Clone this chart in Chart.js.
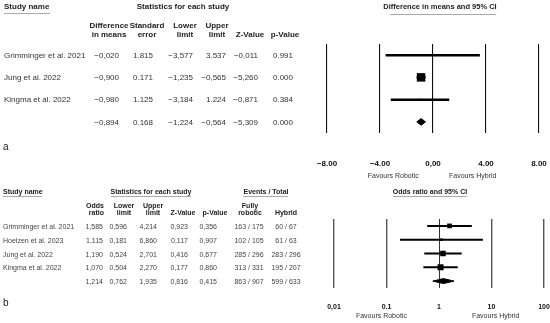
<!DOCTYPE html>
<html lang="en">
<head>
<meta charset="UTF-8" />
<title>Forest plots</title>
<script src="https://cdn.jsdelivr.net/npm/chart.js"></script>
<style>
  body { margin: 0; background: #fff; }
  #wrap { position: relative; width: 550px; height: 323px; }
  #wrap canvas { position: absolute; left: 0; top: 0; }
</style>
</head>
<body>
<div id="wrap">
  <canvas id="plotA" width="550" height="323"></canvas>
  <canvas id="plotB" width="550" height="323"></canvas>
</div>
<script>
// panel a - difference in means (last row = summary)
const studiesA = ['Grimminger et al. 2021', 'Jung et al. 2022', 'Kingma et al. 2022', ''];
const diffA = [-0.020, -0.900, -0.980, -0.894];
const seA = [1.815, 0.171, 1.125, 0.168];
const lowerA = [-3.577, -1.235, -3.184, -1.224];
const upperA = [3.537, -0.565, 1.224, -0.564];
const zA = [-0.011, -5.260, -0.871, -5.309];
const pA = [0.991, 0.000, 0.384, 0.000];
const weightA = [1, 96, 3];
const ticksA = [-8, -4, 0, 4, 8];
const tickLabelsA = ['−8.00', '−4.00', '0,00', '4.00', '8.00'];

// panel b - odds ratio (last row = summary)
const studiesB = ['Grimminger et al. 2021', 'Hoelzen et al. 2023', 'Jung et al. 2022', 'Kingma et al. 2022', ''];
const oddsB = [1.585, 1.115, 1.190, 1.070, 1.214];
const lowerB = [0.596, 0.181, 0.524, 0.504, 0.762];
const upperB = [4.214, 6.860, 2.701, 2.270, 1.935];
const zB = [0.923, 0.117, 0.416, 0.177, 0.816];
const pB = [0.356, 0.907, 0.677, 0.860, 0.415];
const robEvents = [163, 102, 285, 313, 863];
const robTotal = [175, 105, 296, 331, 907];
const hybEvents = [60, 61, 283, 195, 599];
const hybTotal = [67, 63, 296, 207, 633];
const weightB = [23, 7, 32, 38];
const ticksB = [0.01, 0.1, 1, 10, 100];
const tickLabelsB = ['0,01', '0.1', '1', '10', '100'];

const FONT = '"Liberation Sans", Arial, sans-serif';

function txt(ctx, s, x, y, font, align, color) {
  ctx.font = font + ' ' + FONT;
  ctx.textAlign = align || 'left';
  ctx.fillStyle = color || '#222';
  ctx.fillText(s, x, y);
}
function uline(ctx, x1, x2, y) {
  ctx.strokeStyle = '#aaa';
  ctx.lineWidth = 1;
  ctx.beginPath();
  ctx.moveTo(x1, y + 0.5);
  ctx.lineTo(x2, y + 0.5);
  ctx.stroke();
}
function fmtA(v) {
  const s = Math.abs(v).toFixed(3);
  return v < 0 ? '−' + s.replace('.', ',') : s;
}
function fmtB(v) {
  return Math.abs(v).toFixed(3).replace('.', ',');
}

// build forest datasets: CI lines, weight squares, summary diamond
function forestData(est, lo, hi, weights, maxSide, lineW, halfH) {
  const n = weights.length;
  const sets = [];
  for (let i = 0; i < n; i++) {
    sets.push({
      type: 'line',
      data: [{ x: lo[i], y: i }, { x: hi[i], y: i }],
      borderColor: '#000', borderWidth: lineW, pointRadius: 0
    });
  }
  const maxW = Math.max(...weights);
  sets.push({
    type: 'scatter',
    data: weights.map((w, i) => ({ x: est[i], y: i })),
    pointStyle: 'rect',
    pointRadius: weights.map(w => maxSide * Math.sqrt(w / maxW) / Math.SQRT2),
    backgroundColor: '#000', borderWidth: 0
  });
  sets.push({
    type: 'line',
    data: [
      { x: lo[n], y: n }, { x: est[n], y: n - halfH },
      { x: hi[n], y: n }, { x: est[n], y: n + halfH }, { x: lo[n], y: n }
    ],
    borderColor: '#000', backgroundColor: '#000', borderWidth: 1,
    pointRadius: 0, fill: 'shape'
  });
  return sets;
}

const tableA = {
  id: 'tableA',
  afterDraw(chart) {
    const ctx = chart.ctx, x = chart.scales.x, y = chart.scales.y;
    ctx.save();
    ctx.textBaseline = 'middle';
    txt(ctx, 'Study name', 4, 7, 'bold 8px');
    uline(ctx, 4, 50, 13);
    txt(ctx, 'Statistics for each study', 183, 7, 'bold 8px', 'center');
    txt(ctx, 'Difference in means and 95% CI', 440, 7, 'bold 7.5px', 'center');
    uline(ctx, 390, 496, 14);

    const hx = [109, 147, 185, 217];
    const h1 = ['Difference', 'Standard', 'Lower', 'Upper'];
    const h2 = ['in means', 'error', 'limit', 'limit'];
    hx.forEach((cx, k) => {
      txt(ctx, h1[k], cx, 26, 'bold 8px', 'center');
      txt(ctx, h2[k], cx, 35, 'bold 8px', 'center');
    });
    txt(ctx, 'Z-Value', 250, 35, 'bold 8px', 'center');
    txt(ctx, 'p-Value', 285, 35, 'bold 8px', 'center');

    const right = [119, 153, 193, 226, 258, 293];
    studiesA.forEach((name, i) => {
      const ry = y.getPixelForValue(i) + 0.5;
      txt(ctx, name, 4, ry, '8px', 'left', '#333');
      const cells = [fmtA(diffA[i]), fmtA(seA[i]), fmtA(lowerA[i]), fmtA(upperA[i]), fmtA(zA[i]), pA[i].toFixed(3)];
      cells.forEach((c, k) => txt(ctx, c, right[k], ry, '8px', 'right', '#333'));
    });

    const ty = chart.chartArea.bottom + 31;
    ticksA.forEach((v, k) => txt(ctx, tickLabelsA[k], x.getPixelForValue(v), ty, 'bold 8px', 'center', '#111'));
    txt(ctx, 'Favours Robotic', x.getPixelForValue(-3), ty + 12, '7px', 'center', '#333');
    txt(ctx, 'Favours Hybrid', x.getPixelForValue(3), ty + 12, '7px', 'center', '#333');
    txt(ctx, 'a', 3, 147, '10px', 'left', '#222');
    ctx.restore();
  }
};

const tableB = {
  id: 'tableB',
  afterDraw(chart) {
    const ctx = chart.ctx, x = chart.scales.x, y = chart.scales.y;
    ctx.save();
    ctx.textBaseline = 'middle';
    txt(ctx, 'Study name', 3, 192, 'bold 7px');
    uline(ctx, 3, 42, 196);
    txt(ctx, 'Statistics for each study', 151, 192, 'bold 7px', 'center');
    uline(ctx, 111, 191, 196);
    txt(ctx, 'Events / Total', 266, 192, 'bold 7px', 'center');
    uline(ctx, 243, 288, 196);
    txt(ctx, 'Odds ratio and 95% CI', 430, 192, 'bold 7px', 'center');
    uline(ctx, 393, 467, 196);

    txt(ctx, 'Odds', 104, 206, 'bold 7px', 'right');
    txt(ctx, 'ratio', 104, 213.5, 'bold 7px', 'right');
    const hx = [124, 153, 250];
    const h1 = ['Lower', 'Upper', 'Fully'];
    const h2 = ['limit', 'limit', 'robotic'];
    hx.forEach((cx, k) => {
      txt(ctx, h1[k], cx, 206, 'bold 7px', 'center');
      txt(ctx, h2[k], cx, 213.5, 'bold 7px', 'center');
    });
    txt(ctx, 'Z-Value', 183, 213.5, 'bold 7px', 'center');
    txt(ctx, 'p-Value', 215, 213.5, 'bold 7px', 'center');
    txt(ctx, 'Hybrid', 286, 213.5, 'bold 7px', 'center');

    const right = [103, 127, 157, 188, 217];
    studiesB.forEach((name, i) => {
      const ry = y.getPixelForValue(i) + 1.2;
      txt(ctx, name, 3, ry, '7px', 'left', '#444');
      const cells = [fmtB(oddsB[i]), fmtB(lowerB[i]), fmtB(upperB[i]), fmtB(zB[i]), fmtB(pB[i])];
      cells.forEach((c, k) => txt(ctx, c, right[k], ry, '7px', 'right', '#444'));
      txt(ctx, robEvents[i] + ' / ' + robTotal[i], 249, ry, '7px', 'center', '#444');
      txt(ctx, hybEvents[i] + ' / ' + hybTotal[i], 286, ry, '7px', 'center', '#444');
    });

    const ty = chart.chartArea.bottom + 19;
    ticksB.forEach((v, k) => txt(ctx, tickLabelsB[k], x.getPixelForValue(v), ty, 'bold 7px', 'center', '#111'));
    txt(ctx, 'Favours Robotic', x.getPixelForValue(0.08), ty + 9.5, '7px', 'center', '#333');
    txt(ctx, 'Favours Hybrid', x.getPixelForValue(12), ty + 9.5, '7px', 'center', '#333');
    txt(ctx, 'b', 3, 303, '10px', 'left', '#222');
    ctx.restore();
  }
};

function baseOptions(padding, xScale, rows) {
  return {
    responsive: false,
    animation: false,
    layout: { padding: padding },
    plugins: { legend: { display: false }, tooltip: { enabled: false } },
    scales: {
      x: xScale,
      y: { type: 'linear', min: -0.5, max: rows - 0.5, reverse: true, display: false }
    }
  };
}

new Chart(document.getElementById('plotA'), {
  type: 'line',
  data: { datasets: forestData(diffA, lowerA, upperA, weightA, 8.5, 2.5, 0.15) },
  options: baseOptions(
    { left: 327, right: 11, top: 44, bottom: 190 },
    {
      type: 'linear', min: -8, max: 8,
      afterBuildTicks: s => { s.ticks = ticksA.map(v => ({ value: v })); },
      grid: { color: '#111', lineWidth: 1.1, drawTicks: false },
      border: { display: false },
      ticks: { display: false }
    },
    studiesA.length
  ),
  plugins: [tableA]
});

new Chart(document.getElementById('plotB'), {
  type: 'line',
  data: { datasets: forestData(oddsB, lowerB, upperB, weightB, 6, 2, 0.18) },
  options: baseOptions(
    { left: 334, right: 6, top: 219, bottom: 35 },
    {
      type: 'logarithmic', min: 0.01, max: 100,
      afterBuildTicks: s => { s.ticks = ticksB.map(v => ({ value: v })); },
      grid: { color: ctx => ctx.index === 2 ? '#333' : '#555', lineWidth: ctx => ctx.index === 2 ? 1 : 1.4, drawTicks: false },
      border: { display: false },
      ticks: { display: false }
    },
    studiesB.length
  ),
  plugins: [tableB]
});
</script>
</body>
</html>
